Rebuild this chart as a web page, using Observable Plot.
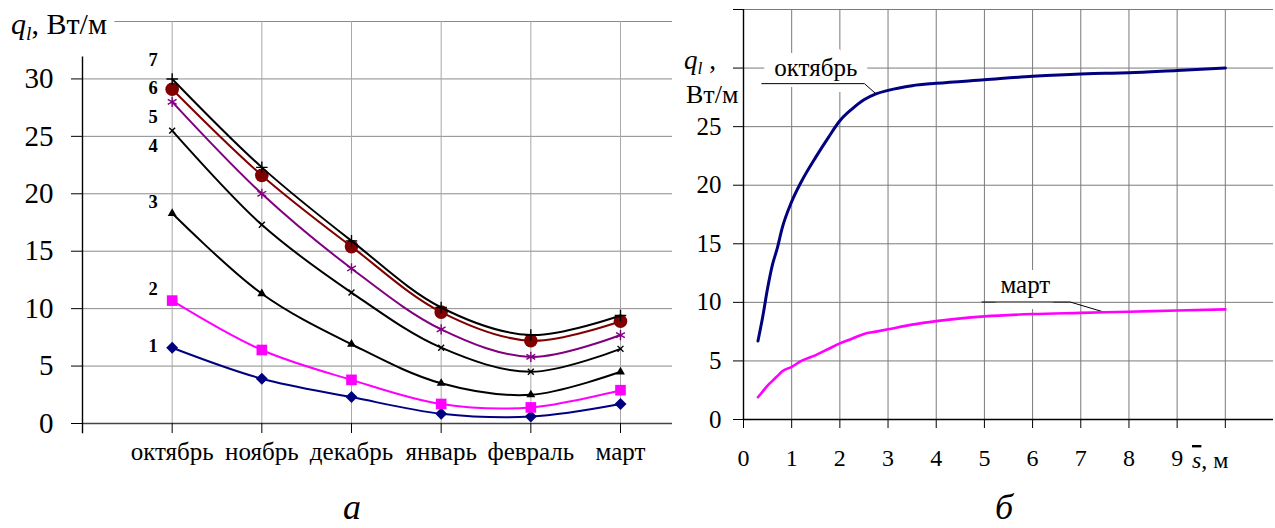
<!DOCTYPE html>
<html><head><meta charset="utf-8">
<script src="https://cdn.jsdelivr.net/npm/d3@7"></script>
<script src="https://cdn.jsdelivr.net/npm/@observablehq/plot@0.6"></script>
<style>
body{margin:0;background:#fff;}
#wrap{position:relative;width:1275px;height:528px;overflow:hidden;font-family:"Liberation Serif","DejaVu Serif",serif;background:#fff;}
#wrap > *{position:absolute;top:0;}
#wrap svg, #wrap svg text{font-family:"Liberation Serif","DejaVu Serif",serif !important;}
</style></head><body><div id="wrap"></div>
<script>
// ---------- Panel "а": q_l by month, curves 1..7 ----------
const months = ["октябрь", "ноябрь", "декабрь", "январь", "февраль", "март"];
const seriesNames = ["1", "2", "3", "4", "5", "6", "7"];
const q1 = [6.6, 3.9, 2.3, 0.85, 0.6, 1.7];
const q2 = [10.7, 6.4, 3.8, 1.7, 1.4, 2.9];
const q3 = [18.3, 11.3, 6.9, 3.5, 2.5, 4.5];
const q4 = [25.5, 17.3, 11.4, 6.6, 4.5, 6.5];
const q5 = [28.0, 20.0, 13.5, 8.2, 5.8, 7.7];
const q6 = [29.1, 21.6, 15.4, 9.7, 7.2, 8.9];
const q7 = [30.0, 22.3, 15.9, 10.1, 7.7, 9.4];
const leftYTicks = [0, 5, 10, 15, 20, 25, 30];

// ---------- Panel "б": q_l vs distance s ----------
const sDist    = [0.3, 0.4, 0.5, 0.6, 0.7, 0.8, 1.0, 1.2, 1.5, 1.75, 2.0, 2.25, 2.5, 2.75, 3.0, 3.5, 4, 5, 6, 7, 7.5, 8, 9, 10];
const qOctober = [6.7, 8.8, 11.2, 13.2, 14.6, 16.3, 18.6, 20.3, 22.4, 24.0, 25.5, 26.5, 27.3, 27.8, 28.1, 28.5, 28.7, 29.0, 29.3, 29.5, 29.55, 29.6, 29.8, 30.0];
const qMarch   = [1.9, 2.4, 2.9, 3.3, 3.7, 4.1, 4.5, 5.0, 5.5, 6.0, 6.5, 6.9, 7.3, 7.5, 7.7, 8.1, 8.4, 8.8, 9.0, 9.1, 9.15, 9.2, 9.3, 9.4];
const curveNames = ["октябрь", "март"];
const rightXTicks = [0, 1, 2, 3, 4, 5, 6, 7, 8, 9, 10];
const rightYTicks = [0, 5, 10, 15, 20, 25, 30, 35];

const wrap = document.getElementById("wrap");
const FONT = '"Liberation Serif", "DejaVu Serif", serif';

// ----- left plot -----
const allSeries = [q1, q2, q3, q4, q5, q6, q7];
const seriesStyle = [
  {color: "#000080", symbol: "diamond2", r: 5.4, filled: true},
  {color: "#ff00ff", symbol: "square", r: 6, filled: true},
  {color: "#000000", symbol: "triangle", r: 3.3, filled: true},
  {color: "#000000", symbol: "times", r: 2.8, filled: false},
  {color: "#800080", symbol: "asterisk", r: 4.8, filled: false},
  {color: "#800000", symbol: "circle", r: 6.8, filled: true},
  {color: "#000000", symbol: "plus", r: 3.8, filled: false}
];
const labelDy = [-2, -12, -11, 15, 15, -1, -19];

const seriesMarks = allSeries.flatMap((vals, si) => {
  const rows = vals.map((v, i) => ({x: i + 1, q: v}));
  const st = seriesStyle[si];
  return [
    Plot.line(rows, {x: "x", y: "q", stroke: st.color, strokeWidth: 2, curve: "catmull-rom"}),
    st.filled
      ? Plot.dot(rows, {x: "x", y: "q", symbol: st.symbol, r: st.r, fill: st.color, stroke: null})
      : Plot.dot(rows, {x: "x", y: "q", symbol: st.symbol, r: st.r, stroke: st.color, strokeWidth: 1.4, fill: "none"}),
    Plot.text([rows[0]], {x: "x", y: "q", text: () => seriesNames[si], dx: -19, dy: labelDy[si],
      fontSize: 18.5, fontWeight: "bold", fill: "black", textAnchor: "middle"})
  ];
});

const left = Plot.plot({
  width: 680, height: 528,
  marginLeft: 82, marginRight: 8, marginTop: 21, marginBottom: 105,
  style: {fontFamily: FONT, background: "transparent", color: "black", overflow: "visible"},
  x: {type: "linear", domain: [0, 6.58], label: null},
  y: {domain: [0, 35], label: null},
  marks: [
    Plot.gridY(d3.range(5, 36, 5), {stroke: "#8a8a8a", strokeOpacity: 1}),
    Plot.gridX(d3.range(1, 7), {stroke: "#a8a8a8", strokeOpacity: 1}),
    Plot.ruleY([0], {stroke: "#444", strokeWidth: 1.4}),
    Plot.ruleX([0], {y1: -0.9, y2: 31.9, stroke: "black", strokeWidth: 1.4}),
    Plot.axisY(leftYTicks, {tickSize: 11, tickPadding: 18, fontSize: 29, label: null}),
    Plot.axisX(d3.range(1, 7), {tickSize: 10, tickPadding: 9, fontSize: 25, label: null, tickFormat: i => months[i - 1]}),
    ...seriesMarks
  ]
});
left.style.left = "0px";
wrap.appendChild(left);

// ----- right plot -----
const octRows = sDist.map((s, i) => ({s, q: qOctober[i]}));
const marRows = sDist.map((s, i) => ({s, q: qMarch[i]}));
const rowsBy = {"октябрь": octRows, "март": marRows};
// annotation layout: text anchor (s,q), shelf height and extent, target s on the curve
const annotations = [
  {name: "октябрь", tx: 1.5, ty: 30.0, shelfQ: 28.67, shelfS1: 0.38, shelfS2: 2.51, targetS: 2.75},
  {name: "март", tx: 5.85, ty: 11.45, shelfQ: 10.03, shelfS1: 4.95, shelfS2: 6.78, targetS: 7.5}
];
const leaderMarks = annotations.map(a => {
  const t = rowsBy[a.name].find(r => r.s === a.targetS);
  return Plot.line([{s: a.shelfS1, q: a.shelfQ}, {s: a.shelfS2, q: a.shelfQ}, t], {x: "s", y: "q", stroke: "black", strokeWidth: 1});
});

const right = Plot.plot({
  width: 595, height: 528,
  marginLeft: 63, marginRight: 2, marginTop: 9, marginBottom: 109,
  style: {fontFamily: FONT, background: "transparent", color: "black", overflow: "visible"},
  x: {domain: [0, 11], label: null},
  y: {domain: [0, 35], label: null},
  marks: [
    Plot.gridY(d3.range(5, 36, 5), {stroke: "#7a7a7a", strokeOpacity: 1}),
    Plot.gridX(d3.range(1, 11), {stroke: "#7a7a7a", strokeOpacity: 1}),
    Plot.text(annotations, {x: "tx", y: "ty", text: "name", fontSize: 25, fill: "white", stroke: "white", strokeWidth: 22, textAnchor: "middle"}),
    ...leaderMarks,
    Plot.text(annotations, {x: "tx", y: "ty", text: "name", fontSize: 25, fill: "black", textAnchor: "middle"}),
    Plot.ruleY([0], {stroke: "black", strokeWidth: 1.4}),
    Plot.ruleX([0], {stroke: "black", strokeWidth: 1.4}),
    Plot.axisY(rightYTicks, {tickSize: 10, tickPadding: 12, fontSize: 25, label: null, tickFormat: d => d <= 25 ? d : ""}),
    Plot.axisX(rightXTicks, {tickSize: 9, tickPadding: 20, fontSize: 24, label: null, tickFormat: d => d < 10 ? d : ""}),
    Plot.line(marRows, {x: "s", y: "q", stroke: "#ff00ff", strokeWidth: 2.6, curve: "monotone-x"}),
    Plot.line(octRows, {x: "s", y: "q", stroke: "#000080", strokeWidth: 3, curve: "monotone-x"})
  ]
});
right.style.left = "680px";
wrap.appendChild(right);

// ----- overlay: axis titles and panel captions -----
const ov = d3.select(wrap).append("svg")
  .attr("width", 1275).attr("height", 528)
  .style("left", "0px").style("pointer-events", "none")
  .style("font-family", FONT);

// q_l label: drawn twice, first as a white halo, then as black text
function qLabel(x, y, size, rest, restDy, halo) {
  const t = ov.append("text").attr("x", x).attr("y", y).attr("font-size", size);
  if (halo) t.attr("fill", "white").attr("stroke", "white").attr("stroke-width", 16).attr("stroke-linejoin", "round");
  else t.attr("fill", "black");
  t.append("tspan").attr("font-style", "italic").text("q");
  t.append("tspan").attr("font-style", "italic").attr("font-size", size * 0.65).attr("dy", size * 0.2).text("l");
  t.append("tspan").attr("dy", restDy).text(rest);
}
qLabel(11, 34, 30, ", Вт/м", -6, true);
qLabel(11, 34, 30, ", Вт/м", -6, false);
qLabel(684, 69, 27, " ,", -5.4, false);
ov.append("text").attr("x", 686).attr("y", 103).attr("font-size", 26).text("Вт/м");

const st = ov.append("text").attr("x", 1192).attr("y", 468).attr("font-size", 24);
st.append("tspan").attr("font-style", "italic").style("text-decoration", "overline").text("s");
st.append("tspan").text(", м");

ov.append("text").attr("x", 352).attr("y", 519).attr("font-size", 36).attr("font-style", "italic").attr("text-anchor", "middle").text("а");
ov.append("text").attr("x", 1004).attr("y", 519).attr("font-size", 36).attr("font-style", "italic").attr("text-anchor", "middle").text("б");
</script></body></html>
